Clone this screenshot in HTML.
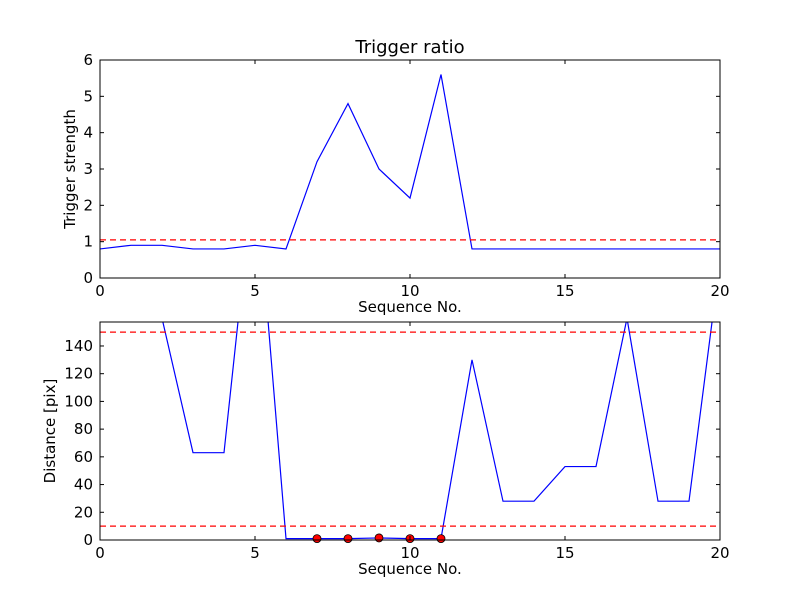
<!DOCTYPE html>
<html><head><meta charset="utf-8"><style>
body{margin:0;background:#fff}
svg text{font-family:"DejaVu Sans","Liberation Sans",sans-serif;fill:#000}
</style></head><body>
<svg id="c" width="800" height="600" xmlns="http://www.w3.org/2000/svg">
<rect width="800" height="600" fill="#fff"/>
</svg>
<script>
const seq = [0,1,2,3,4,5,6,7,8,9,10,11,12,13,14,15,16,17,18,19,20];
const triggerStrength = [0.8,0.9,0.9,0.8,0.8,0.9,0.8,3.2,4.8,3.0,2.2,5.6,0.8,0.8,0.8,0.8,0.8,0.8,0.8,0.8,0.8];
const triggerThreshold = 1.05;
const distance = [300,300,160,63,63,272,1,1,1,1.5,1,1,130,28,28,53,53,160,28,28,202];
const dotSeq = [7,8,9,10,11];
const dotDist = [1,1,1.5,1,1];
const distThresholds = [150,10];
const xTicks = [0,5,10,15,20];
const yTicksTop = [0,1,2,3,4,5,6];
const yTicksBot = [0,20,40,60,80,100,120,140];

const svg = document.getElementById('c');
const NS = 'http://www.w3.org/2000/svg';
function mk(tag, attrs, parent){const e=document.createElementNS(NS,tag);for(const k in attrs)e.setAttribute(k,attrs[k]);(parent||svg).appendChild(e);return e;}

function panel(name, top, bottom, ymax, yTicks, ylabel, title){
  const L=100,R=720;
  const g=mk('g',{});
  
  
  const sx=v=>L+(v-0)/20*(R-L);
  const sy=v=>bottom-v/ymax*(bottom-top);
  const defs=mk('clipPath',{id:'clip-'+name},g);
  mk('rect',{x:L,y:top,width:R-L,height:bottom-top},defs);
  const plot=mk('g',{'clip-path':'url(#clip-'+name+')'},g);
  return {g,plot,sx,sy,L,R,top,bottom,ymax,yTicks,ylabel,title};
}
function frame(p){
  const {g,sx,sy,L,R,top,bottom}=p;
  const fr=mk('rect',{x:L,y:top,width:R-L,height:bottom-top,fill:'none',stroke:'#000','stroke-width':1},g);
  
  
  xTicks.forEach(t=>{
    const x=sx(t);
    mk('line',{x1:x,x2:x,y1:bottom,y2:bottom-4,stroke:'#000'},g);
    mk('line',{x1:x,x2:x,y1:top,y2:top+4,stroke:'#000'},g);
    const tx=mk('text',{x:x,y:bottom+18,'text-anchor':'middle','font-size':15},g);
    tx.textContent=t;
    
    
  });
  p.yTicks.forEach(t=>{
    const y=sy(t);
    mk('line',{x1:L,x2:L+4,y1:y,y2:y,stroke:'#000'},g);
    mk('line',{x1:R,x2:R-4,y1:y,y2:y,stroke:'#000'},g);
    const tx=mk('text',{x:L-7,y:y+5,'text-anchor':'end','font-size':15},g);
    tx.textContent=t;
    
    
  });
  const xl=mk('text',{x:(L+R)/2,y:bottom+34,'text-anchor':'middle','font-size':15},g);
  xl.textContent='Sequence No.';
  
  
  const cy=(top+bottom)/2;
  const yl=mk('text',{x:0,y:0,'text-anchor':'middle','font-size':15,transform:'translate('+p.ylx+','+cy+') rotate(-90)'},g);
  yl.textContent=p.ylabel;
  
  
  if(p.title){
    const tt=mk('text',{x:(L+R)/2,y:top-7,'text-anchor':'middle','font-size':18},g);
    tt.textContent=p.title;
    
    
  }
}
function hline(p,v){
  const l=mk('line',{x1:p.L,x2:p.R,y1:p.sy(v),y2:p.sy(v),stroke:'#f00','stroke-width':1.2,'stroke-dasharray':'6,4'},p.plot);
  
  
}
function series(p,xs,ys){
  const pl=mk('polyline',{points:xs.map((x,i)=>p.sx(x)+','+p.sy(ys[i])).join(' '),fill:'none',stroke:'#00f','stroke-width':1.2},p.plot);
  
  
}

const p1=panel('trigger-panel',60,278,6,yTicksTop,'Trigger strength','Trigger ratio');
p1.ylx=75;
series(p1,seq,triggerStrength);
hline(p1,triggerThreshold);
frame(p1);

const p2=panel('distance-panel',322,540,157.3,yTicksBot,'Distance [pix]',null);
p2.ylx=55;
series(p2,seq,distance);
distThresholds.forEach(v=>hline(p2,v));
dotSeq.forEach((x,i)=>{
  const c=mk('circle',{cx:p2.sx(x),cy:p2.sy(dotDist[i]),r:4,fill:'#f00',stroke:'#000','stroke-width':0.8},p2.g);
  
  
});
frame(p2);
</script>
</body></html>
